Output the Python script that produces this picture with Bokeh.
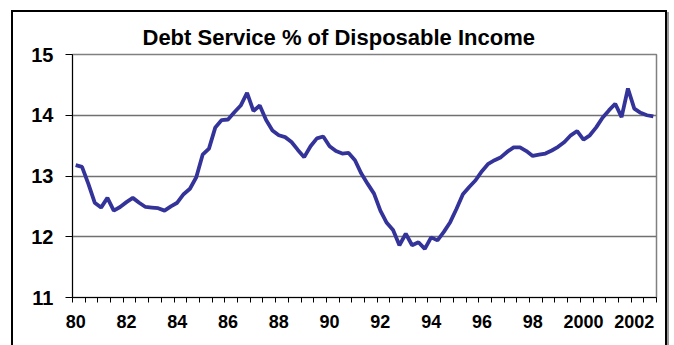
from bokeh.plotting import figure
from bokeh.models import Range1d, FixedTicker
from bokeh.embed import file_html
from bokeh.resources import INLINE

title_text = "Debt Service % of Disposable Income"
start_year = 1980  # quarterly data, 1980Q1 .. 2002Q4
debt_service = [
    13.18, 13.15, 12.87, 12.56, 12.48, 12.64, 12.43, 12.49, 12.57, 12.64,
    12.56, 12.49, 12.48, 12.47, 12.43, 12.50, 12.56, 12.70, 12.79, 12.98,
    13.35, 13.45, 13.80, 13.92, 13.93, 14.05, 14.16, 14.37, 14.07, 14.16,
    13.92, 13.75, 13.67, 13.64, 13.56, 13.43, 13.31, 13.49, 13.62, 13.65,
    13.49, 13.41, 13.37, 13.38, 13.26, 13.04, 12.87, 12.71, 12.43, 12.23,
    12.11, 11.86, 12.05, 11.86, 11.91, 11.80, 11.99, 11.94,
    12.08, 12.24, 12.46, 12.70, 12.82, 12.93, 13.08, 13.20, 13.26, 13.31,
    13.40, 13.47, 13.47, 13.41, 13.33, 13.35, 13.37, 13.42, 13.48, 13.56,
    13.67, 13.74, 13.60, 13.67, 13.80, 13.96, 14.08, 14.19, 13.97, 14.44,
    14.11, 14.04, 14.00, 13.98,
]
label_years = [1980, 1982, 1984, 1986, 1988, 1990, 1992, 1994, 1996, 1998, 2000, 2002]
label_texts = ["80", "82", "84", "86", "88", "90", "92", "94", "96", "98", "2000", "2002"]
y_ticks = [11, 12, 13, 14, 15]

n = len(debt_service)
x = [start_year + i / 4 for i in range(n)]
x_lo = start_year - 0.125
x_hi = start_year + (n - 1) / 4 + 0.125
half_year_marks = [x_lo + 0.5 * k for k in range(int(round((x_hi - x_lo) / 0.5)) + 1)]

FONT = "Liberation Sans"

p = figure(width=674, height=345, output_backend="svg", toolbar_location=None,
           x_range=Range1d(x_lo, x_hi), y_range=Range1d(y_ticks[0], y_ticks[-1]),
           min_border_left=72, min_border_right=18, min_border_top=54, min_border_bottom=48,
           title=title_text)

p.title.text_font = FONT
p.title.text_font_size = "22px"
p.title.text_font_style = "bold"
p.title.text_color = "black"
p.title.align = "left"
p.title.offset = 70

p.line(x, debt_service, line_color="#333399", line_width=3.8)

p.border_fill_color = None
p.background_fill_color = "white"
p.styles = {
    "background": (
        "linear-gradient(#000,#000) 11px 10px / 2px 340px no-repeat, "
        "linear-gradient(#000,#000) 11px 10px / 656px 2px no-repeat, "
        "linear-gradient(#000,#000) 665px 10px / 2px 340px no-repeat, "
        "linear-gradient(#999,#999) 667px 12px / 2px 340px no-repeat, "
        "#ffffff"
    )
}

p.outline_line_color = "#808080"
p.outline_line_width = 1.5
p.xgrid.grid_line_color = None
p.ygrid.ticker = FixedTicker(ticks=y_ticks)
p.ygrid.grid_line_color = "#707070"
p.ygrid.grid_line_width = 1.5

ya = p.yaxis[0]
ya.ticker = FixedTicker(ticks=y_ticks)
ya.axis_line_color = "black"
ya.major_tick_out = 7
ya.major_tick_in = 0
ya.minor_tick_line_color = None
ya.major_label_standoff = 12
ya.major_label_text_font = FONT
ya.major_label_text_font_size = "20px"
ya.major_label_text_font_style = "bold"
ya.major_label_text_color = "black"

xa = p.xaxis[0]
xa.ticker = FixedTicker(ticks=label_years, minor_ticks=half_year_marks)
xa.major_label_overrides = {yr: t for yr, t in zip(label_years, label_texts)}
xa.axis_line_color = "black"
xa.major_tick_line_color = None
xa.major_tick_out = 0
xa.major_tick_in = 0
xa.minor_tick_line_color = "black"
xa.minor_tick_out = 5
xa.minor_tick_in = 0
xa.major_label_standoff = 12
xa.major_label_text_font = FONT
xa.major_label_text_font_size = "18px"
xa.major_label_text_font_style = "bold"
xa.major_label_text_color = "black"

open("out.html", "w").write(file_html(p, INLINE))
